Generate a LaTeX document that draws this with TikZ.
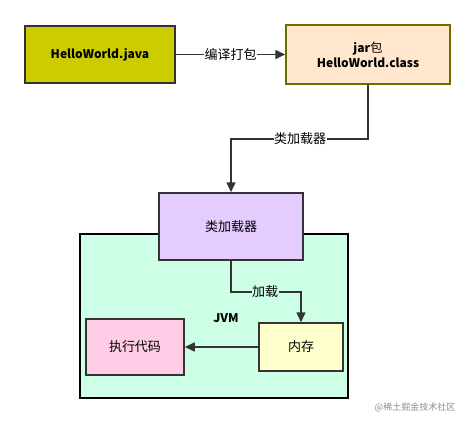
\documentclass[tikz,border=0pt]{standalone}
\usepackage{fontspec}
\setmainfont{Noto Sans CJK SC}
\usetikzlibrary{%
  calc,arrows.meta,positioning}
\tikzset {>={Triangle[length=10pt,width=9pt]}}
\tikzset{box/.style={draw=black!80,line width=1.5pt,inner sep=0pt,
    font=\fontsize{13pt}{15pt}\selectfont}}
\tikzset{lbl/.style={fill=white,inner sep=0.5pt,
    font=\fontsize{13pt}{15pt}\selectfont}}
\tikzset{latin/.style={font=\bfseries\fontsize{12pt}{15pt}\selectfont}}
\definecolor{javafill}{HTML}{CCCC00}
\definecolor{jarfill}{HTML}{FFE6CC}
\definecolor{jarline}{HTML}{6D6D00}
\definecolor{cldfill}{HTML}{E5CCFF}
\definecolor{jvmfill}{HTML}{CCFFE6}
\definecolor{runfill}{HTML}{FFCCE6}
\definecolor{memfill}{HTML}{FFFFCC}

\begin{document}
\begin{tikzpicture}[x=1pt,y=-1pt]
\useasboundingbox (0,0) rectangle (475,424);
\node[box,latin,fill=javafill,minimum width=150pt,minimum height=57pt]
  (java) at (100,54.5) {HelloWorld.java};
\node[box,latin,draw=jarline,fill=jarfill,minimum width=164pt,
  minimum height=59pt,align=center]
  (jar) at (368,54.5) {jar{\mdseries\fontsize{12.5pt}{15pt}\selectfont 包}\\HelloWorld.class};
% JVM frame
\draw[line width=1.7pt,fill=jvmfill] (80,234) rectangle (348,398);
\node[box,fill=cldfill,minimum width=144pt,minimum height=67pt]
  (loader) at (231,226.5) {类加载器};
\node[latin] (jvm) at (226,318) {JVM};
\node[box,fill=runfill,minimum width=98pt,minimum height=56pt]
  (run) at (135,347) {执行代码};
\node[box,fill=memfill,minimum width=84pt,minimum height=48pt]
  (mem) at (301,347) {内存};
\node[text=black!45,font=\fontsize{9pt}{10pt}\selectfont]
  (mark) at (415,407) {@稀土掘金技术社区};
% connectors
\draw[->,line width=1.5pt,black!80] (java) --
  node[lbl,text=black] {编译打包} (jar);
\draw[->,line width=1.5pt,black!80] (jar.south) |- (300,139)
  node[lbl,text=black] {类加载器} -| (loader.north);
\draw[->,line width=1.5pt,black!80] (loader.south) |- (265,292)
  node[lbl,text=black,fill=jvmfill] {加载} -| (mem.north);
\draw[->,line width=1.5pt,black!80] (mem) -- (run);
\end{tikzpicture}
\end{document}
